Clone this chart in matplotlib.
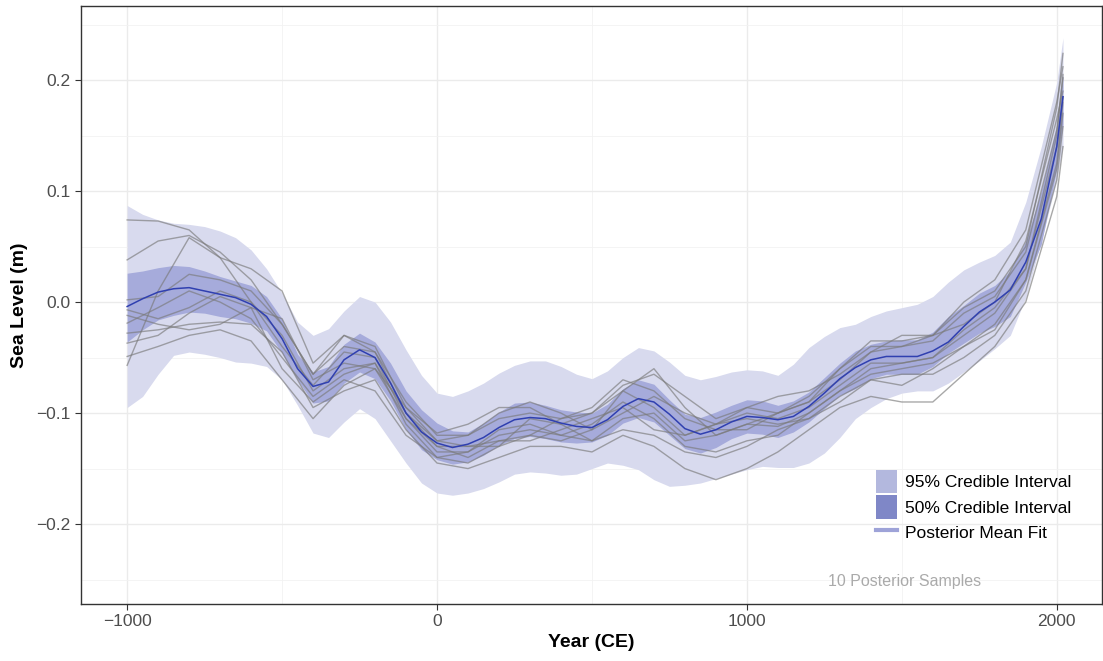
import numpy as np
import matplotlib
matplotlib.use("Agg")
import matplotlib.pyplot as plt
from matplotlib.patches import Patch
from matplotlib.lines import Line2D

plt.rcParams['font.family'] = ['Liberation Sans', 'DejaVu Sans']

# ---- data ----
years = [-1000, -950, -900, -850, -800, -750, -700, -650, -600, -550, -500, -450,
         -400, -350, -300, -250, -200, -150, -100, -50, 0, 50, 100, 150, 200, 250,
         300, 350, 400, 450, 500, 550, 600, 650, 700, 750, 800, 850, 900, 950, 1000,
         1050, 1100, 1150, 1200, 1250, 1300, 1350, 1400, 1450, 1500, 1550, 1600, 1650,
         1700, 1750, 1800, 1850, 1900, 1950, 2000, 2020]

mean_fit = [-0.004, 0.003, 0.009, 0.012, 0.013, 0.010, 0.007, 0.004, -0.002, -0.013,
            -0.033, -0.060, -0.076, -0.072, -0.052, -0.043, -0.050, -0.073, -0.100,
            -0.117, -0.127, -0.131, -0.128, -0.122, -0.113, -0.106, -0.104, -0.105,
            -0.109, -0.112, -0.113, -0.106, -0.094, -0.087, -0.090, -0.101, -0.114,
            -0.119, -0.115, -0.108, -0.103, -0.104, -0.106, -0.103, -0.094, -0.082,
            -0.069, -0.059, -0.052, -0.049, -0.049, -0.049, -0.044, -0.036, -0.022,
            -0.009, 0.000, 0.011, 0.036, 0.075, 0.140, 0.185]

upper95 = [0.087, 0.079, 0.074, 0.071, 0.070, 0.068, 0.064, 0.058, 0.047, 0.030,
           0.008, -0.018, -0.030, -0.024, -0.008, 0.005, 0.000, -0.018, -0.043,
           -0.066, -0.082, -0.085, -0.080, -0.073, -0.064, -0.057, -0.053, -0.053,
           -0.058, -0.065, -0.069, -0.062, -0.050, -0.041, -0.044, -0.054, -0.066,
           -0.070, -0.067, -0.063, -0.061, -0.062, -0.066, -0.056, -0.041, -0.031,
           -0.023, -0.020, -0.013, -0.008, -0.005, -0.002, 0.005, 0.018, 0.029,
           0.036, 0.042, 0.054, 0.090, 0.140, 0.198, 0.238]

lower95 = [-0.095, -0.085, -0.065, -0.048, -0.045, -0.047, -0.050, -0.054, -0.055,
           -0.058, -0.070, -0.093, -0.118, -0.122, -0.108, -0.096, -0.105, -0.125,
           -0.145, -0.163, -0.172, -0.174, -0.172, -0.168, -0.162, -0.155, -0.153,
           -0.154, -0.156, -0.155, -0.150, -0.145, -0.147, -0.151, -0.160, -0.166,
           -0.165, -0.163, -0.159, -0.155, -0.151, -0.148, -0.149, -0.149, -0.145,
           -0.136, -0.122, -0.105, -0.095, -0.087, -0.082, -0.080, -0.080, -0.073,
           -0.063, -0.053, -0.042, -0.030, 0.004, 0.055, 0.110, 0.140]

upper50 = [0.026, 0.028, 0.031, 0.033, 0.032, 0.028, 0.023, 0.019, 0.015, 0.005,
           -0.015, -0.047, -0.063, -0.058, -0.038, -0.028, -0.036, -0.055, -0.080,
           -0.097, -0.109, -0.116, -0.117, -0.109, -0.099, -0.091, -0.090, -0.093,
           -0.097, -0.099, -0.100, -0.092, -0.078, -0.070, -0.074, -0.088, -0.101,
           -0.104, -0.099, -0.093, -0.088, -0.089, -0.093, -0.089, -0.081, -0.068,
           -0.055, -0.044, -0.038, -0.035, -0.034, -0.034, -0.027, -0.013, -0.003,
           0.008, 0.015, 0.028, 0.055, 0.100, 0.160, 0.205]

lower50 = [-0.036, -0.025, -0.016, -0.012, -0.009, -0.010, -0.013, -0.015, -0.019,
           -0.026, -0.046, -0.070, -0.091, -0.089, -0.073, -0.063, -0.069, -0.089,
           -0.115, -0.133, -0.142, -0.146, -0.144, -0.138, -0.129, -0.123, -0.121,
           -0.123, -0.126, -0.127, -0.126, -0.120, -0.109, -0.104, -0.108, -0.120,
           -0.132, -0.136, -0.131, -0.123, -0.118, -0.119, -0.122, -0.117, -0.108,
           -0.096, -0.084, -0.078, -0.069, -0.065, -0.065, -0.065, -0.058, -0.046,
           -0.037, -0.028, -0.022, -0.013, 0.018, 0.052, 0.120, 0.160]

sample_years = [-1000, -900, -800, -700, -600, -500, -400, -300, -200, -100, 0, 100,
                200, 300, 400, 500, 600, 700, 800, 900, 1000, 1100, 1200, 1300, 1400,
                1500, 1600, 1700, 1800, 1900, 2000, 2020]

sample1 = [0.074, 0.073, 0.065, 0.040, 0.030, 0.010, -0.055, -0.030, -0.040, -0.095, -0.118, -0.110,
           -0.095, -0.095, -0.110, -0.100, -0.075, -0.065, -0.085, -0.105, -0.095, -0.085, -0.080,
           -0.065, -0.045, -0.040, -0.030, -0.005, 0.010, 0.050, 0.175, 0.224]
sample2 = [0.038, 0.055, 0.060, 0.045, 0.020, -0.020, -0.065, -0.030, -0.045, -0.090, -0.120, -0.120,
           -0.100, -0.090, -0.100, -0.115, -0.080, -0.060, -0.095, -0.120, -0.110, -0.100, -0.090,
           -0.060, -0.035, -0.035, -0.030, 0.000, 0.020, 0.065, 0.180, 0.212]
sample3 = [-0.057, 0.010, 0.058, 0.040, 0.000, -0.040, -0.075, -0.045, -0.050, -0.105, -0.135, -0.135,
           -0.115, -0.110, -0.120, -0.125, -0.105, -0.100, -0.125, -0.120, -0.110, -0.112, -0.100,
           -0.080, -0.060, -0.055, -0.050, -0.030, -0.010, 0.030, 0.150, 0.205]
sample4 = [0.002, 0.005, 0.025, 0.020, 0.010, -0.020, -0.065, -0.040, -0.045, -0.100, -0.125, -0.120,
           -0.105, -0.100, -0.105, -0.100, -0.080, -0.095, -0.120, -0.110, -0.100, -0.105, -0.095,
           -0.075, -0.055, -0.055, -0.050, -0.025, -0.005, 0.030, 0.140, 0.185]
sample5 = [-0.007, -0.015, -0.005, 0.010, 0.000, -0.030, -0.080, -0.060, -0.055, -0.110, -0.140, -0.135,
           -0.120, -0.115, -0.120, -0.110, -0.090, -0.105, -0.130, -0.135, -0.125, -0.120, -0.100,
           -0.080, -0.065, -0.060, -0.055, -0.040, -0.020, 0.020, 0.125, 0.180]
sample6 = [-0.012, -0.020, -0.025, -0.020, -0.005, -0.015, -0.070, -0.055, -0.060, -0.105, -0.130, -0.140,
           -0.125, -0.125, -0.115, -0.105, -0.095, -0.115, -0.120, -0.110, -0.105, -0.110, -0.105,
           -0.090, -0.070, -0.065, -0.065, -0.050, -0.030, 0.010, 0.110, 0.158]
sample7 = [-0.019, -0.005, 0.010, 0.000, -0.015, -0.050, -0.085, -0.065, -0.055, -0.100, -0.130, -0.130,
           -0.130, -0.120, -0.105, -0.095, -0.070, -0.080, -0.105, -0.115, -0.115, -0.100, -0.085,
           -0.060, -0.040, -0.040, -0.035, -0.010, 0.005, 0.045, 0.155, 0.202]
sample8 = [-0.028, -0.025, -0.020, -0.018, -0.020, -0.045, -0.095, -0.080, -0.070, -0.115, -0.145, -0.150,
           -0.140, -0.130, -0.130, -0.135, -0.120, -0.130, -0.150, -0.160, -0.150, -0.135, -0.115,
           -0.095, -0.085, -0.090, -0.090, -0.065, -0.040, 0.000, 0.095, 0.140]
sample9 = [-0.037, -0.030, -0.010, 0.005, -0.005, -0.060, -0.090, -0.070, -0.080, -0.120, -0.140, -0.145,
           -0.130, -0.105, -0.110, -0.125, -0.115, -0.120, -0.135, -0.140, -0.130, -0.115, -0.105,
           -0.085, -0.070, -0.075, -0.060, -0.040, -0.025, 0.020, 0.120, 0.170]
sample10 = [-0.049, -0.040, -0.030, -0.025, -0.035, -0.070, -0.105, -0.075, -0.060, -0.095, -0.125, -0.130,
            -0.125, -0.120, -0.125, -0.115, -0.100, -0.085, -0.100, -0.110, -0.095, -0.100, -0.090,
            -0.070, -0.045, -0.030, -0.030, -0.020, 0.000, 0.055, 0.165, 0.190]
samples = [sample1, sample2, sample3, sample4, sample5, sample6, sample7, sample8, sample9, sample10]

x_ticks = [-1000, 0, 1000, 2000]
x_minor = [-500, 500, 1500]
y_ticks = [-0.2, -0.1, 0.0, 0.1, 0.2]
y_minor = [-0.25, -0.15, -0.05, 0.05, 0.15, 0.25]
y_ticklabels = ['\u22120.2', '\u22120.1', '0.0', '0.1', '0.2']
x_ticklabels = ['\u22121000', '0', '1000', '2000']

# ---- figure ----
fig = plt.figure(figsize=(11.03, 6.61), dpi=100)
ax = fig.add_axes([0.0734, 0.0862, 0.9257, 0.9047])

c95 = '#d8daee'
c50 = '#a6abdb'
ax.fill_between(years, lower95, upper95, color=c95, lw=0, zorder=2)
ax.fill_between(years, lower50, upper50, color=c50, lw=0, zorder=3)
for s in samples:
    ax.plot(sample_years, s, color='#7a7a7a', alpha=0.65, lw=1.0, zorder=4)
ax.plot(years, mean_fit, color='#3040b0', lw=1.1, zorder=5)

ax.set_xlim(-1149, 2146)
ax.set_ylim(-0.272, 0.2667)

ax.set_xticks(x_ticks)
ax.set_xticklabels(x_ticklabels)
ax.set_xticks(x_minor, minor=True)
ax.set_yticks(y_ticks)
ax.set_yticklabels(y_ticklabels)
ax.set_yticks(y_minor, minor=True)
ax.grid(True, which='major', color='#ebebeb', lw=1.0, zorder=0)
ax.grid(True, which='minor', color='#f2f2f2', lw=0.6, zorder=0)
ax.set_axisbelow(True)
ax.tick_params(which='major', length=4, width=0.8, color='#333333',
               labelsize=12.5, labelcolor='#4d4d4d')
ax.tick_params(which='minor', length=0)
for sp in ax.spines.values():
    sp.set_color('#333333')
    sp.set_linewidth(1.0)

ax.set_xlabel('Year (CE)', fontsize=14, fontweight='bold', labelpad=3)
ax.set_ylabel('Sea Level (m)', fontsize=14, fontweight='bold', labelpad=6)

handles = [Patch(facecolor='#b3b8de', edgecolor='none'),
           Patch(facecolor='#7f87c7', edgecolor='none'),
           Line2D([0], [0], color='#9ea3d8', lw=3)]
labels = ['95% Credible Interval', '50% Credible Interval', 'Posterior Mean Fit']
leg = ax.legend(handles, labels, loc='lower right', bbox_to_anchor=(0.977, 0.088),
                frameon=False, fontsize=12.5, handlelength=1.25, handleheight=1.7,
                handletextpad=0.45, labelspacing=0.12, borderaxespad=0)

ax.text(1510, -0.2515, '10 Posterior Samples', color='#aaaaaa', fontsize=11.5,
        ha='center', va='center', zorder=6)

fig.savefig('out.png', dpi=100)
